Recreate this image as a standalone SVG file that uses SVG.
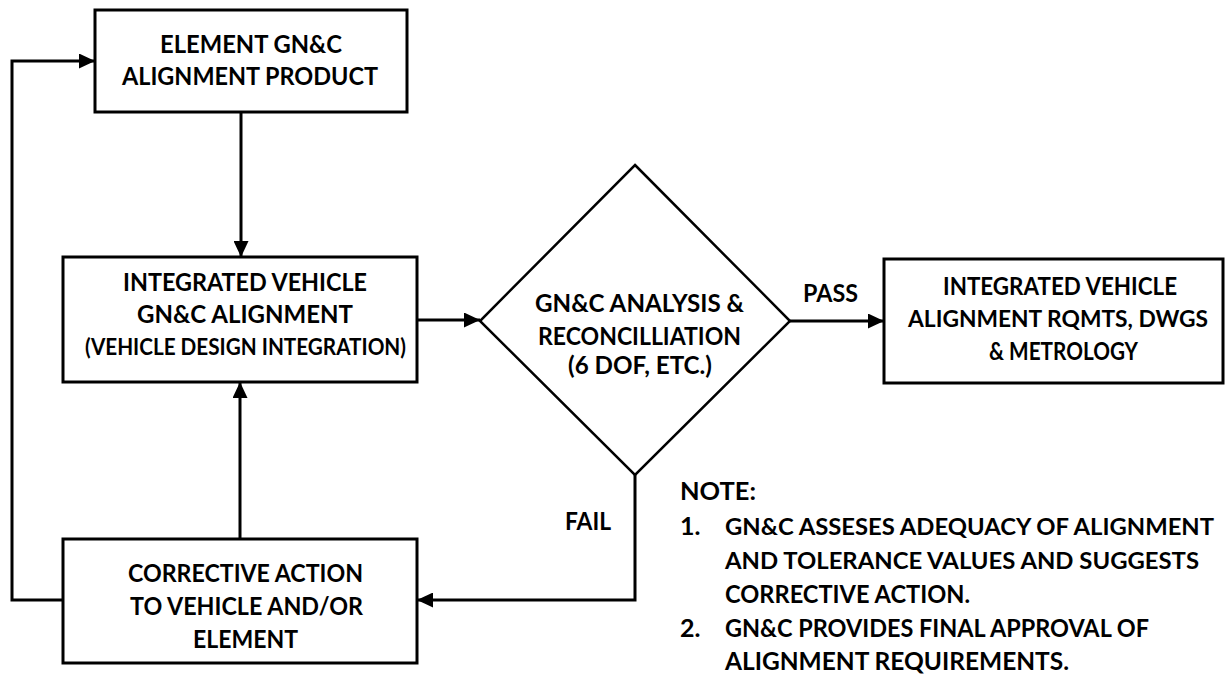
<svg xmlns="http://www.w3.org/2000/svg" width="1225" height="675" viewBox="0 0 1225 675">
<style>
.box{fill:#fff;stroke:#000;stroke-width:3}
.dia{fill:#fff;stroke:#000;stroke-width:2.5}
.t{font-family:Lato,"Liberation Sans",sans-serif;font-weight:700;font-size:25px;fill:#000;text-anchor:middle}
.l{font-family:Lato,"Liberation Sans",sans-serif;font-weight:700;font-size:25px;fill:#000}
.s{font-size:23.5px}
.c{fill:none;stroke:#000;stroke-width:3}
</style>
<defs>
<marker id="ah" markerUnits="userSpaceOnUse" markerWidth="17" markerHeight="15" refX="16" refY="7.5" orient="auto">
<path d="M0,0 L16,7.5 L0,15 z" fill="#000"/>
</marker>
</defs>
<g id="connectors">
<path class="c" d="M63,600 H12 V61 H95" marker-end="url(#ah)"/>
<path class="c" d="M241,112 V257" marker-end="url(#ah)"/>
<path class="c" d="M240,539 V382" marker-end="url(#ah)"/>
<path class="c" d="M417,320 H480" marker-end="url(#ah)"/>
<path class="c" d="M790,321 H884" marker-end="url(#ah)"/>
<path class="c" d="M635,475 V600 H417" marker-end="url(#ah)"/>
<text class="l" x="803" y="302" textLength="55" lengthAdjust="spacingAndGlyphs">PASS</text>
<text class="l" x="565" y="530" textLength="46" lengthAdjust="spacingAndGlyphs">FAIL</text>
</g>
<g id="element">
<rect class="box" x="95" y="10" width="312" height="102"/>
<text class="t" x="251" y="53" textLength="182" lengthAdjust="spacingAndGlyphs">ELEMENT GN&amp;C</text>
<text class="t" x="250" y="85" textLength="256" lengthAdjust="spacingAndGlyphs">ALIGNMENT PRODUCT</text>
</g>
<g id="integrated">
<rect class="box" x="63" y="257" width="354" height="125"/>
<text class="t" x="245" y="291" textLength="244" lengthAdjust="spacingAndGlyphs">INTEGRATED VEHICLE</text>
<text class="t" x="245" y="323" textLength="216" lengthAdjust="spacingAndGlyphs">GN&amp;C ALIGNMENT</text>
<text class="t s" x="245.500" y="355" textLength="321" lengthAdjust="spacingAndGlyphs">(VEHICLE DESIGN INTEGRATION)</text>
</g>
<g id="analysis">
<polygon class="dia" points="635,165 790,321 635,475 480,321"/>
<text class="t" x="639.500" y="312" textLength="209" lengthAdjust="spacingAndGlyphs">GN&amp;C ANALYSIS &amp;</text>
<text class="t" x="639.500" y="345" textLength="203" lengthAdjust="spacingAndGlyphs">RECONCILLIATION</text>
<text class="t" x="640" y="374" textLength="144" lengthAdjust="spacingAndGlyphs">(6 DOF, ETC.)</text>
</g>
<g id="requirements">
<rect class="box" x="884" y="259" width="339" height="124"/>
<text class="t" x="1060" y="295" textLength="234" lengthAdjust="spacingAndGlyphs">INTEGRATED VEHICLE</text>
<text class="t s" x="1058" y="327" textLength="300" lengthAdjust="spacingAndGlyphs">ALIGNMENT RQMTS, DWGS</text>
<text class="t" x="1063.500" y="360" textLength="149" lengthAdjust="spacingAndGlyphs">&amp; METROLOGY</text>
</g>
<g id="corrective">
<rect class="box" x="63" y="539" width="354" height="124"/>
<text class="t" x="245.500" y="582" textLength="235" lengthAdjust="spacingAndGlyphs">CORRECTIVE ACTION</text>
<text class="t" x="246.500" y="615" textLength="233" lengthAdjust="spacingAndGlyphs">TO VEHICLE AND/OR</text>
<text class="t" x="245.500" y="648" textLength="105" lengthAdjust="spacingAndGlyphs">ELEMENT</text>
</g>
<g id="note">
<text class="l" x="680" y="500" textLength="76" lengthAdjust="spacingAndGlyphs">NOTE:</text>
<text class="l" x="680" y="535">1.</text>
<text class="l s" x="725" y="535" textLength="489" lengthAdjust="spacingAndGlyphs">GN&amp;C ASSESES ADEQUACY OF ALIGNMENT</text>
<text class="l s" x="725" y="569" textLength="474" lengthAdjust="spacingAndGlyphs">AND TOLERANCE VALUES AND SUGGESTS</text>
<text class="l" x="725" y="603" textLength="245" lengthAdjust="spacingAndGlyphs">CORRECTIVE ACTION.</text>
<text class="l" x="680" y="637">2.</text>
<text class="l" x="725" y="637" textLength="424" lengthAdjust="spacingAndGlyphs">GN&amp;C PROVIDES FINAL APPROVAL OF</text>
<text class="l" x="725" y="670" textLength="344" lengthAdjust="spacingAndGlyphs">ALIGNMENT REQUIREMENTS.</text>
</g>
</svg>
